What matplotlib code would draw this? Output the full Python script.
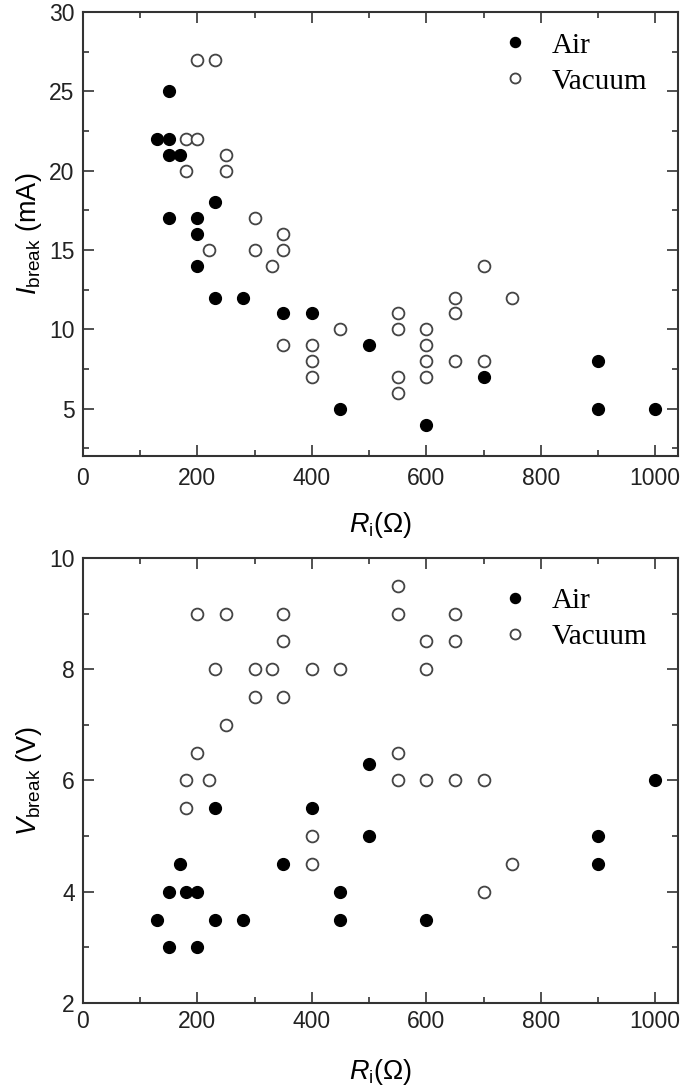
import numpy as np
import matplotlib.pyplot as plt
from matplotlib.ticker import MultipleLocator

# top panel: breakdown current
air_r_i = [150, 130, 150, 150, 170, 230, 150, 200, 200, 200, 230, 280, 350, 400,
           500, 450, 600, 700, 900, 900, 1000]
air_i = [25, 22, 22, 21, 21, 18, 17, 17, 16, 14, 12, 12, 11, 11, 9, 5, 4, 7, 8, 5, 5]
vac_r_i = [200, 230, 180, 200, 250, 180, 250, 300, 350, 220, 300, 350, 330, 450,
           350, 400, 400, 400, 550, 550, 550, 550, 600, 600, 600, 600, 650, 650,
           650, 700, 700, 750]
vac_i = [27, 27, 22, 22, 21, 20, 20, 17, 16, 15, 15, 15, 14, 10, 9, 9, 8, 7, 11,
         10, 7, 6, 10, 9, 8, 7, 12, 11, 8, 14, 8, 12]

# bottom panel: breakdown voltage
air_r_v = [500, 230, 400, 500, 170, 350, 150, 180, 200, 450, 130, 230, 280, 450,
           600, 150, 200, 900, 900, 1000]
air_v = [6.3, 5.5, 5.5, 5, 4.5, 4.5, 4, 4, 4, 4, 3.5, 3.5, 3.5, 3.5, 3.5, 3, 3,
         5, 4.5, 6]
vac_r_v = [550, 200, 250, 350, 550, 650, 350, 600, 650, 230, 300, 330, 400, 450,
           600, 300, 350, 250, 200, 550, 180, 220, 550, 600, 650, 700, 180, 400,
           400, 750, 700]
vac_v = [9.5, 9, 9, 9, 9, 9, 8.5, 8.5, 8.5, 8, 8, 8, 8, 8, 8, 7.5, 7.5, 7, 6.5,
         6.5, 6, 6, 6, 6, 6, 6, 5.5, 5, 4.5, 4.5, 4]

plt.rcParams['mathtext.fontset'] = 'custom'
plt.rcParams['mathtext.rm'] = 'Liberation Sans'
plt.rcParams['mathtext.it'] = 'Liberation Sans:italic'
plt.rcParams['font.family'] = ['Liberation Sans', 'DejaVu Sans']

fig = plt.figure(figsize=(6.88, 10.89), dpi=100)
ax1 = fig.add_axes([0.1206, 0.581, 0.865, 0.408])
ax2 = fig.add_axes([0.1206, 0.079, 0.865, 0.4086])

spine_col = '#333333'


def style(ax, ylo, yhi, ymaj, ymin, pad):
    ax.set_xlim(0, 1040)
    ax.set_ylim(ylo, yhi)
    ax.xaxis.set_major_locator(MultipleLocator(200))
    ax.xaxis.set_minor_locator(MultipleLocator(100))
    ax.yaxis.set_major_locator(MultipleLocator(ymaj))
    ax.yaxis.set_minor_locator(MultipleLocator(ymin))
    ax.tick_params(which='both', direction='in', top=True, right=True,
                   labelsize=16.5, colors=spine_col, labelcolor='#222222', width=1.2)
    ax.tick_params(which='major', length=8)
    ax.tick_params(axis='x', which='major', pad=pad)
    ax.tick_params(axis='y', which='major', pad=6)
    ax.tick_params(which='minor', length=4)
    for s in ax.spines.values():
        s.set_color(spine_col)
        s.set_linewidth(1.5)


for ax, ar, ay, vr, vy, ly in [(ax1, air_r_i, air_i, vac_r_i, vac_i, 1.0135),
                               (ax2, air_r_v, air_v, vac_r_v, vac_v, 0.993)]:
    ax.plot(ar, ay, 'o', ms=8.5, color='black', label='Air')
    ax.plot(vr, vy, 'o', ms=8.5, mfc='white', mec='#444444', mew=1.3, label='Vacuum')
    ax.legend(loc='upper right', bbox_to_anchor=(0.992, ly), frameon=False,
              prop={'family': 'Liberation Serif', 'size': 21}, markerscale=0.85,
              handlelength=1.0, handletextpad=0.77, labelspacing=0.33)

style(ax1, 2, 30, 5, 2.5, 8)
style(ax2, 2, 10, 2, 1, 5)
ax1.set_yticks([5, 10, 15, 20, 25, 30])
ax1.set_xlabel(r'$R_{\mathregular{i}}(\Omega)$', fontsize=19.5, labelpad=14)
ax2.set_xlabel(r'$R_{\mathregular{i}}(\Omega)$', fontsize=19.5, labelpad=17)
ax1.set_ylabel(r'$I_{\mathregular{break}}$ (mA)', fontsize=19.5, labelpad=4)
ax2.set_ylabel(r'$V_{\mathregular{break}}$ (V)', fontsize=19.5, labelpad=4)

fig.savefig('out.png', dpi=100)
